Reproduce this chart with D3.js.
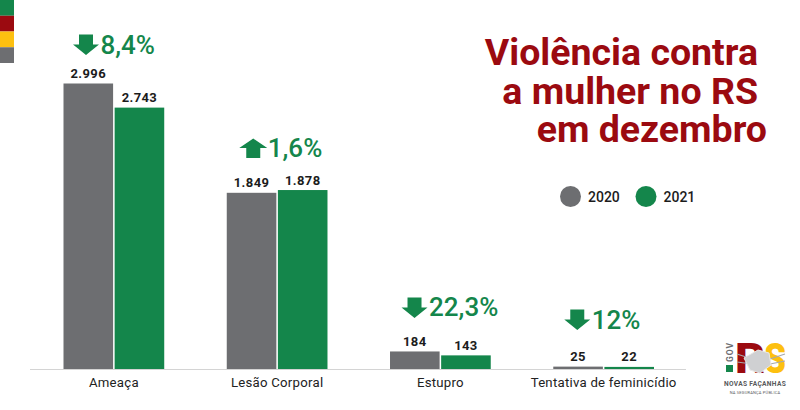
<!DOCTYPE html>
<html><head><meta charset="utf-8">
<script src="https://cdn.jsdelivr.net/npm/d3@7/dist/d3.min.js"></script>
<style>html,body{margin:0;padding:0;background:#fff}svg{display:block}text{font-family:Roboto,sans-serif}</style>
</head><body><div id="c"></div>
<script>
const categories = ["Ameaça","Lesão Corporal","Estupro","Tentativa de feminicídio"];
const seriesNames = ["2020","2021"];
const values2020 = [2996,1849,184,25];
const values2021 = [2743,1878,143,22];
const valueLabels2020 = ["2.996","1.849","184","25"];
const valueLabels2021 = ["2.743","1.878","143","22"];
const changeLabels = ["8,4%","1,6%","22,3%","12%"];
const changeDirections = ["down","up","down","down"];
const titleLines = ["Violência contra","a mulher no RS","em dezembro"];

const W=800,H=410,GRAY="#6d6e71",GREEN="#14864b",RED="#9b0a10",YEL="#fdc010";
const svg=d3.select("#c").append("svg").attr("width",W).attr("height",H);
svg.append("rect").attr("width",W).attr("height",H).attr("fill","#fff");

// colour strip
const stripColors=[GREEN,RED,YEL,GRAY];
const stripY=d3.scaleBand().domain(d3.range(4)).range([0,63]);
svg.selectAll("rect.s").data(stripColors).join("rect").attr("class","s")
 .attr("x",0).attr("width",14).attr("y",(d,i)=>stripY(i)).attr("height",stripY.bandwidth()).attr("fill",d=>d);

// scales
const x=d3.scaleBand().domain(categories).range([63.5,654]).paddingInner(0.383).paddingOuter(0);
const xs=d3.scaleBand().domain(seriesNames).range([0,x.bandwidth()]).paddingInner(0.03);
const y=d3.scaleLinear().domain([0,2996]).range([369,83.5]);
const color=d3.scaleOrdinal().domain(seriesNames).range([GRAY,GREEN]);

const rows=categories.map((c,i)=>({c,i,vals:[
 {s:"2020",v:values2020[i],l:valueLabels2020[i]},
 {s:"2021",v:values2021[i],l:valueLabels2021[i]}]}));

// bars and labels
const g=svg.selectAll("g.cat").data(rows).join("g").attr("class","cat").attr("transform",d=>`translate(${x(d.c)},0)`);
g.selectAll("rect").data(d=>d.vals).join("rect")
 .attr("x",d=>xs(d.s)).attr("width",xs.bandwidth())
 .attr("y",d=>y(d.v)).attr("height",d=>y(0)-y(d.v)).attr("fill",d=>color(d.s));
g.selectAll("text").data(d=>d.vals).join("text")
 .attr("x",d=>xs(d.s)+xs.bandwidth()/2).attr("y",d=>y(d.v)-5.5)
 .attr("text-anchor","middle").attr("font-size",13).attr("font-weight",700).attr("letter-spacing",0.4).attr("fill","#1c1c1c").text(d=>d.l);

// axis
svg.append("line").attr("x1",30).attr("x2",686).attr("y1",y(0)+0.5).attr("y2",y(0)+0.5).attr("stroke","#d4d4d4").attr("stroke-width",1);
const ax=svg.append("g").attr("transform",`translate(0,${y(0)})`)
 .call(d3.axisBottom(x).tickSize(0).tickPadding(9));
ax.select(".domain").remove();
ax.selectAll("text").attr("font-family","Roboto,sans-serif").attr("font-size",13.2).attr("letter-spacing",0.25).attr("fill","#222");

// change annotations
const arrowDown="M-7,-10H7V0H13L0,10.5L-13,0H-7Z";
const arrowUp="M-7,10H7V0H14L0,-9.5L-14,0H-7Z";
const annotGap=[39,42,44,47];
const annotDx=[22.5,26.5,24.5,24];
const ann=svg.selectAll("g.ann").data(rows).join("g").attr("class","ann")
 .attr("transform",d=>`translate(${x(d.c)+annotDx[d.i]},${y(Math.max(...d.vals.map(v=>v.v)))-annotGap[d.i]})`);
ann.append("path").attr("d",d=>changeDirections[d.i]==="down"?arrowDown:arrowUp).attr("fill",GREEN);
ann.append("text").attr("x",14.5).attr("y",9).attr("font-size",26).attr("font-weight",500).attr("fill",GREEN).text(d=>changeLabels[d.i]);

// title
const titleRight=[758,758,767],titleBase=[65,103.5,142];
svg.selectAll("text.t").data(titleLines).join("text").attr("class","t")
 .attr("x",(d,i)=>titleRight[i]).attr("y",(d,i)=>titleBase[i]).attr("text-anchor","end")
 .attr("font-size",37.5).attr("font-weight",700).attr("fill",RED).text(d=>d);

// legend
const legX=[570.5,646];
const leg=svg.selectAll("g.leg").data(seriesNames).join("g").attr("class","leg").attr("transform",(d,i)=>`translate(${legX[i]},196.5)`);
leg.append("circle").attr("r",10.5).attr("fill",d=>color(d));
leg.append("text").attr("x",17.5).attr("y",5).attr("font-size",14).attr("font-weight",500).attr("fill","#1c1c1c").text(d=>d);

// logo
const logo=svg.append("g").attr("class","logo");
logo.append("rect").attr("x",726).attr("y",365).attr("width",7).attr("height",7).attr("fill",GREEN);
logo.append("text").attr("transform","translate(733,362) rotate(-90)").attr("font-size",8.5).attr("font-weight",700).attr("letter-spacing",1).attr("fill","#6d6e71").text("GOV");
logo.append("text").attr("x",735).attr("y",373).attr("font-size",42).attr("font-weight",900).attr("textLength",30).attr("lengthAdjust","spacingAndGlyphs").attr("fill",RED).text("R");
logo.append("text").attr("x",764).attr("y",373).attr("font-size",42).attr("font-weight",900).attr("textLength",22).attr("lengthAdjust","spacingAndGlyphs").attr("fill",YEL).text("S");
logo.append("path").attr("d","M737,354L752,359M737,362L752,364M770,359L785,354M770,364L785,361").attr("stroke","#a7a9ac").attr("stroke-width",1.2);
logo.append("path").attr("d","M744,358L758,350L769,353L771,365L760,373L750,370Z").attr("fill","#cfd0d2").attr("stroke","#e8e8e8");
logo.append("text").attr("x",755).attr("y",385.5).attr("text-anchor","middle").attr("font-size",6.6).attr("font-weight",700).attr("letter-spacing",0.35).attr("fill","#58595b").text("NOVAS FAÇANHAS");
logo.append("text").attr("x",755).attr("y",394).attr("text-anchor","middle").attr("font-size",4).attr("letter-spacing",0.2).attr("fill","#58595b").text("NA SEGURANÇA PÚBLICA");
</script></body></html>
